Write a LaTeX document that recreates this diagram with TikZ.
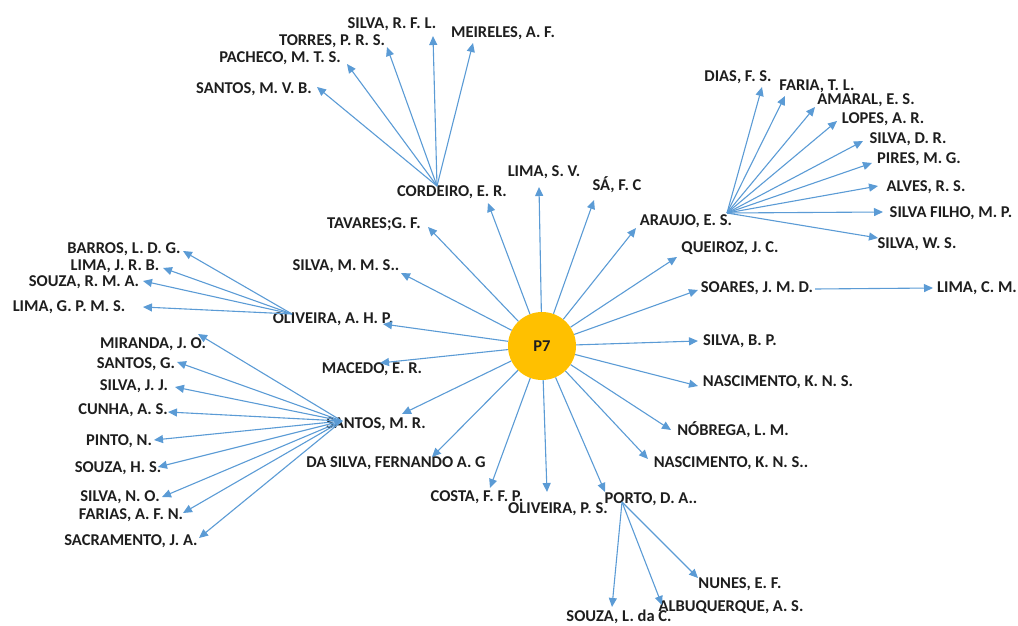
\documentclass[tikz,border=0pt]{standalone}
\usepackage{fontspec}
\setmainfont{Carlito}
\usetikzlibrary{arrows.meta}
\definecolor{linkblue}{HTML}{5B9BD5}
\definecolor{hubgold}{HTML}{FFC000}
\definecolor{txt}{HTML}{1E1E1E}
\begin{document}
\begin{tikzpicture}[x=1pt,y=-1pt,
  lbl/.style={font=\bfseries\fontsize{16.5}{17}\selectfont, text=txt, inner sep=0pt},
  link/.style={draw=linkblue, line width=1.1pt, -{Triangle[length=9pt,width=8pt]}},
  hub/.style={circle, fill=hubgold, minimum size=68pt, inner sep=0pt,
              font=\bfseries\fontsize{16.5}{17}\selectfont, text=txt}]
\useasboundingbox (0,0) rectangle (1018,626);

% central node
\node[hub] (p7) at (542,346) {P7};

% ---- first ring: labels and arrow tips ----
\node[lbl] (cordeiro) at (452,192) {CORDEIRO, E. R.};      \coordinate (cordeiro-in) at (488,203);
\node[lbl] (limasv)   at (544,172) {LIMA, S. V.};          \coordinate (limasv-in)   at (539,187);
\node[lbl] (sa)       at (617,185) {SÁ, F. C};             \coordinate (sa-in)       at (594,200);
\node[lbl] (araujo)   at (686,221) {ARAUJO, E. S.};        \coordinate (araujo-in)   at (636,228);
\node[lbl] (queiroz)  at (730,248) {QUEIROZ, J. C.};       \coordinate (queiroz-in)  at (677,257);
\node[lbl] (soares)   at (757,288) {SOARES, J. M. D.};     \coordinate (soares-in)   at (698,290);
\node[lbl] (silvabp)  at (740,341) {SILVA, B. P.};         \coordinate (silvabp-in)  at (698,341);
\node[lbl] (nasc)     at (778,382) {NASCIMENTO, K. N. S.}; \coordinate (nasc-in)     at (698,386);
\node[lbl] (nobrega)  at (733,430) {NÓBREGA, L. M.};       \coordinate (nobrega-in)  at (671,430);
\node[lbl] (nascb)    at (731,463) {NASCIMENTO, K. N. S..};\coordinate (nascb-in)    at (648,459);
\node[lbl] (porto)    at (651,499) {PORTO, D. A..};        \coordinate (porto-in)    at (605,492);
\node[lbl] (oliveps)  at (558,509) {OLIVEIRA, P. S.};      \coordinate (oliveps-in)  at (547,492);
\node[lbl] (costa)    at (477,497) {COSTA, F. F. P.};      \coordinate (costa-in)    at (490,488);
\node[lbl] (dasilva)  at (396,463) {DA SILVA, FERNANDO A. G}; \coordinate (dasilva-in) at (432,457);
\node[lbl] (santosmr) at (376,424) {SANTOS, M. R.};        \coordinate (santosmr-in) at (402,414);
\node[lbl] (macedo)   at (372,369) {MACEDO, E. R.};        \coordinate (macedo-in)   at (380,363);
\node[lbl] (oliveahp) at (333,319) {OLIVEIRA, A. H. P.};   \coordinate (oliveahp-in) at (383,324);
\node[lbl] (silvamms) at (346,266) {SILVA, M. M. S..};     \coordinate (silvamms-in) at (401,273);
\node[lbl] (tavares)  at (374,224) {TAVARES;G. F.};        \coordinate (tavares-in)  at (428,227);

\foreach \n in {cordeiro,limasv,sa,araujo,queiroz,soares,silvabp,nasc,nobrega,nascb,
                porto,oliveps,costa,dasilva,santosmr,macedo,oliveahp,silvamms,tavares}
  \draw[link] (p7) -- (\n-in);

% ---- CORDEIRO branch ----
\coordinate (cordeiro-out) at (437,186);
\node[lbl] (santosmvb) at (254,89) {SANTOS, M. V. B.};  \coordinate (santosmvb-in) at (317,87);
\node[lbl] (pacheco)   at (280,58) {PACHECO, M. T. S.}; \coordinate (pacheco-in)   at (347,64);
\node[lbl] (torres)    at (332,41) {TORRES, P. R. S.};  \coordinate (torres-in)    at (387,47);
\node[lbl] (silvarfl)  at (392,24) {SILVA, R. F. L.};   \coordinate (silvarfl-in)  at (433,36);
\node[lbl] (meireles)  at (503,33) {MEIRELES, A. F.};   \coordinate (meireles-in)  at (473,43);
\foreach \n in {santosmvb,pacheco,torres,silvarfl,meireles}
  \draw[link] (cordeiro-out) -- (\n-in);

% ---- ARAUJO branch ----
\coordinate (araujo-out) at (727,213);
\node[lbl] (dias)    at (738,77)  {DIAS, F. S.};        \coordinate (dias-in)    at (762,87);
\node[lbl] (faria)   at (817,86)  {FARIA, T. L.};       \coordinate (faria-in)   at (785,96);
\node[lbl] (amaral)  at (866,100) {AMARAL, E. S.};      \coordinate (amaral-in)  at (815,107);
\node[lbl] (lopes)   at (883,119) {LOPES, A. R.};       \coordinate (lopes-in)   at (837,121);
\node[lbl] (silvadr) at (908,139) {SILVA, D. R.};       \coordinate (silvadr-in) at (863,141);
\node[lbl] (pires)   at (919,159) {PIRES, M. G.};       \coordinate (pires-in)   at (872,163);
\node[lbl] (alves)   at (926,187) {ALVES, R. S.};       \coordinate (alves-in)   at (878,186);
\node[lbl] (filho)   at (951,213) {SILVA FILHO, M. P.}; \coordinate (filho-in)   at (883,212);
\node[lbl] (silvaws) at (917,244) {SILVA, W. S.};       \coordinate (silvaws-in) at (878,238);
\foreach \n in {dias,faria,amaral,lopes,silvadr,pires,alves,filho,silvaws}
  \draw[link] (araujo-out) -- (\n-in);

% ---- SOARES branch ----
\coordinate (soares-out) at (815,289);
\node[lbl] (limacm) at (977,288) {LIMA, C. M.}; \coordinate (limacm-in) at (933,288);
\draw[link] (soares-out) -- (limacm-in);

% ---- OLIVEIRA, A. H. P. branch ----
\coordinate (oliveahp-out) at (292,314);
\node[lbl] (barros)  at (124,249) {BARROS, L. D. G.};  \coordinate (barros-in)  at (183,251);
\node[lbl] (limajrb) at (115,266) {LIMA, J. R. B.};    \coordinate (limajrb-in) at (163,268);
\node[lbl] (souzarma) at (84,282) {SOUZA, R. M. A.};   \coordinate (souzarma-in) at (143,281);
\node[lbl] (limagpms) at (69,307) {LIMA, G. P. M. S.}; \coordinate (limagpms-in) at (143,307);
\foreach \n in {barros,limajrb,souzarma,limagpms}
  \draw[link] (oliveahp-out) -- (\n-in);

% ---- SANTOS, M. R. branch ----
\coordinate (santosmr-out) at (342,421);
\node[lbl] (miranda)  at (153,344) {MIRANDA, J. O.};    \coordinate (miranda-in)  at (198,334);
\node[lbl] (santosg)  at (136,364) {SANTOS, G.};        \coordinate (santosg-in)  at (177,362);
\node[lbl] (silvajj)  at (134,386) {SILVA, J. J.};      \coordinate (silvajj-in)  at (175,387);
\node[lbl] (cunha)    at (123,410) {CUNHA, A. S.};      \coordinate (cunha-in)    at (168,412);
\node[lbl] (pinto)    at (119,441) {PINTO, N.};         \coordinate (pinto-in)    at (154,440);
\node[lbl] (souzahs)  at (118,468) {SOUZA, H. S.};      \coordinate (souzahs-in)  at (158,467);
\node[lbl] (silvano)  at (120,497) {SILVA, N. O.};      \coordinate (silvano-in)  at (162,497);
\node[lbl] (farias)   at (131,515) {FARIAS, A. F. N.};  \coordinate (farias-in)   at (183,513);
\node[lbl] (sacram)   at (131,541) {SACRAMENTO, J. A.}; \coordinate (sacram-in)   at (199,538);
\foreach \n in {miranda,santosg,silvajj,cunha,pinto,souzahs,silvano,farias,sacram}
  \draw[link] (santosmr-out) -- (\n-in);

% ---- PORTO branch ----
\coordinate (porto-out) at (622,502);
\node[lbl] (nunes)  at (740,584) {NUNES, E. F.};       \coordinate (nunes-in)  at (698,578);
\node[lbl] (albuq)  at (731,607) {ALBUQUERQUE, A. S.}; \coordinate (albuq-in)  at (662,605);
\node[lbl] (souzalc) at (619,617) {SOUZA, L. da C.};   \coordinate (souzalc-in) at (612,607);
\foreach \n in {nunes,albuq,souzalc}
  \draw[link] (porto-out) -- (\n-in);
\end{tikzpicture}
\end{document}
